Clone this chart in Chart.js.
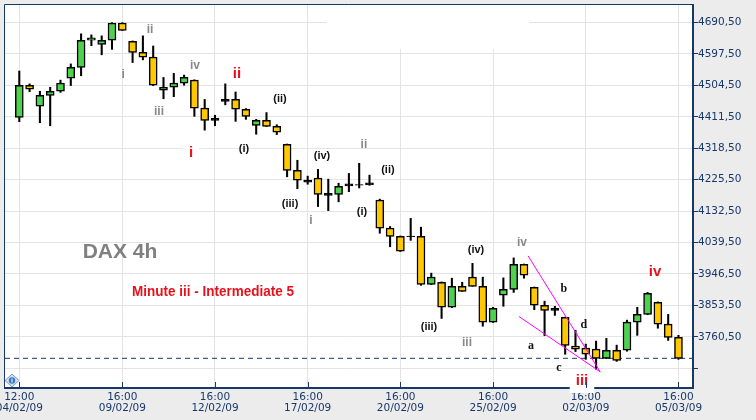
<!DOCTYPE html>
<html>
<head>
<meta charset="utf-8">
<script src="https://cdn.jsdelivr.net/npm/chart.js@4.4.1/dist/chart.umd.min.js"></script>
<style>
html, body { margin: 0; padding: 0; background: #ececec; }
canvas { display: block; }
</style>
</head>
<body>
<canvas id="myChart" width="756" height="420"></canvas>
<script>
// DAX 4h candles, one entry per bar
const opens  = [4410, 4505, 4443, 4475, 4487, 4526, 4558, 4638, 4626, 4638,
                4689, 4635, 4602, 4588, 4490, 4499, 4511, 4520, 4437, 4401,
                4457, 4463, 4434, 4386, 4401, 4383, 4330, 4253, 4224, 4230,
                4185, 4182, 4213, 4211, 4210, 4165, 4082, 4058, 4059, 4058,
                3916, 3922, 3848, 3910, 3937, 3910, 3804, 3884, 3901, 3975,
                3907, 3854, 3839, 3818, 3733, 3727, 3724, 3697, 3721, 3721,
                3804, 3827, 3863, 3798, 3759];
const highs  = [4547, 4509, 4487, 4499, 4520, 4568, 4657, 4654, 4651, 4690,
                4690, 4636, 4651, 4621, 4528, 4540, 4535, 4521, 4463, 4416,
                4509, 4485, 4436, 4404, 4424, 4388, 4331, 4283, 4236, 4256,
                4227, 4215, 4244, 4274, 4239, 4168, 4087, 4059, 4111, 4085,
                3949, 3923, 3934, 3922, 3978, 3937, 3848, 3935, 3994, 3976,
                3908, 3866, 3851, 3819, 3780, 3739, 3748, 3756, 3736, 3810,
                3848, 3892, 3864, 3827, 3765];
const lows   = [4397, 4486, 4394, 4385, 4484, 4504, 4533, 4622, 4595, 4611,
                4667, 4572, 4580, 4504, 4465, 4471, 4505, 4413, 4372, 4385,
                4447, 4398, 4404, 4360, 4383, 4359, 4234, 4199, 4212, 4146,
                4134, 4160, 4190, 4201, 4209, 4067, 4027, 4013, 4046, 3913,
                3915, 3815, 3847, 3895, 3910, 3792, 3803, 3851, 3892, 3934,
                3841, 3764, 3824, 3709, 3717, 3694, 3665, 3696, 3688, 3718,
                3765, 3826, 3786, 3750, 3694];
const closes = [4505, 4493, 4475, 4487, 4511, 4558, 4638, 4645, 4638, 4689,
                4667, 4602, 4588, 4505, 4499, 4511, 4528, 4437, 4401, 4407,
                4463, 4434, 4413, 4401, 4383, 4366, 4253, 4224, 4218, 4182,
                4179, 4206, 4207, 4209, 4216, 4082, 4058, 4014, 4057, 3916,
                3937, 3848, 3910, 3895, 3910, 3804, 3845, 3901, 3975, 3943,
                3854, 3839, 3845, 3735, 3724, 3709, 3697, 3721, 3691, 3804,
                3827, 3889, 3798, 3759, 3697];

// axis ticks
const tickIndex = [0, 10, 19, 28, 37, 46, 55, 64];
const tickTimes = ['12:00', '16:00', '16:00', '16:00', '16:00', '16:00', '16:00', '16:00'];
const tickDates = ['04/02/09', '09/02/09', '12/02/09', '17/02/09', '20/02/09', '25/02/09', '02/03/09', '05/03/09'];
const priceTicks = [4690.5, 4597.5, 4504.5, 4411.5, 4318.5, 4225.5, 4132.5, 4039.5, 3946.5, 3853.5, 3760.5, 3667.5];
const lastPrice = 3697;

// trend lines (bar index, price)
const upperLineX = [49.4, 56.4];
const upperLineY = [4000, 3657];
const lowerLineX = [48.5, 56.4];
const lowerLineY = [3821, 3657];

// wave count labels (bar index, price)
const waveText = ['ii', 'i', 'iv', 'iii', 'ii', 'i', '(i)', '(ii)', '(iii)', '(iv)',
                  'i', 'ii', '(ii)', '(i)', '(iii)', '(iv)', 'iii', 'iv', 'b', 'd',
                  'a', 'c', 'iii', 'iv', 'DAX 4h', 'Minute iii - Intermediate 5'];
const waveX = [12.69, 10.08, 17.06, 13.56, 21.14, 16.67, 21.81, 25.31, 26.29, 29.39,
               28.32, 33.46, 35.79, 33.27, 39.78, 44.34, 43.47, 48.81, 52.88, 54.82,
               49.68, 52.40, 54.63, 61.72, 9.78, 18.8];
const waveY = [4668, 4535, 4562, 4426, 4538, 4304, 4316, 4464, 4154, 4296,
               4103, 4328, 4254, 4130, 3790, 4018, 3742, 4038, 3902, 3796,
               3734, 3668, 3630, 3952, 4012, 3893];
const waveKind = ['gray', 'gray', 'gray', 'gray', 'red', 'redBox', 'black', 'black', 'black', 'black',
                  'gray', 'gray', 'black', 'black', 'black', 'black', 'gray', 'gray', 'letter', 'letter',
                  'letter', 'letter', 'redBox', 'red', 'title', 'note'];

const NAVY = '#19386a';
const GREEN = '#4fd04f';
const GOLD = '#ffc800';
const GRID = '#e4e4e4';
const xMin = -1.388, xMax = 65.41;
const yMin = 3609.2, yMax = 4742.3;

const waveStyle = {
    gray:   { font: 'bold 12px "Liberation Sans", Arial, sans-serif', color: '#888888' },
    red:    { font: 'bold 15px "Liberation Sans", Arial, sans-serif', color: '#e8101a' },
    redBox: { font: 'bold 15px "Liberation Sans", Arial, sans-serif', color: '#e8101a', bg: true },
    black:  { font: 'bold 11px "Liberation Sans", Arial, sans-serif', color: '#111111' },
    letter: { font: 'bold 12px "Liberation Serif", serif', color: '#111111' },
    title:  { font: 'bold 21px "Liberation Sans", Arial, sans-serif', color: '#808080' },
    note:   { font: 'bold 15px "Liberation Sans", Arial, sans-serif', color: '#e8101a', maxWidth: 162 }
};

const chartExtras = {
    id: 'chartExtras',
    beforeDraw(chart) {
        const ctx = chart.ctx;
        const a = chart.chartArea;
        ctx.save();
        ctx.fillStyle = '#ffffff';
        ctx.fillRect(a.left, a.top, a.right - a.left, a.bottom - a.top);
        ctx.restore();
    },
    beforeDatasetsDraw(chart) {
        const ctx = chart.ctx;
        ctx.save();
        ctx.fillStyle = '#ffffff';
        ctx.fillRect(327, 5, 202, 44);
        ctx.restore();
    },
    afterDatasetsDraw(chart) {
        const ctx = chart.ctx;
        const xs = chart.scales.x, ys = chart.scales.y;
        ctx.save();
        ctx.textAlign = 'center';
        ctx.textBaseline = 'middle';
        for (let i = 0; i < waveText.length; i++) {
            const st = waveStyle[waveKind[i]];
            const px = xs.getPixelForValue(waveX[i]);
            const py = ys.getPixelForValue(waveY[i]);
            ctx.font = st.font;
            if (st.bg) {
                const w = ctx.measureText(waveText[i]).width + 12;
                ctx.fillStyle = '#ffffff';
                ctx.fillRect(px - w / 2, py - 12, w, 24);
            }
            ctx.fillStyle = st.color;
            if (st.maxWidth) {
                ctx.fillText(waveText[i], px, py, st.maxWidth);
            } else {
                ctx.fillText(waveText[i], px, py);
            }
        }
        ctx.restore();
    },
    afterDraw(chart) {
        const ctx = chart.ctx;
        const a = chart.chartArea;
        const xs = chart.scales.x;
        ctx.save();
        // left and top frame
        ctx.strokeStyle = NAVY;
        ctx.lineWidth = 1;
        ctx.beginPath();
        ctx.moveTo(4.5, a.bottom);
        ctx.lineTo(4.5, 4.5);
        ctx.lineTo(a.right, 4.5);
        ctx.stroke();
        // inward ticks on the time axis
        ctx.beginPath();
        tickIndex.forEach(v => {
            const px = Math.round(xs.getPixelForValue(v)) + 0.5;
            ctx.moveTo(px, a.bottom);
            ctx.lineTo(px, a.bottom - 6);
        });
        ctx.stroke();
        // small info icon
        const cx = 12, cy = 380.5;
        ctx.beginPath();
        ctx.moveTo(cx - 7, cy);
        ctx.lineTo(cx, cy - 6.5);
        ctx.lineTo(cx + 7, cy);
        ctx.lineTo(cx, cy + 6.5);
        ctx.closePath();
        ctx.fillStyle = '#cfdcec';
        ctx.fill();
        ctx.strokeStyle = '#7d9bc2';
        ctx.stroke();
        ctx.beginPath();
        ctx.arc(cx, cy, 3.2, 0, Math.PI * 2);
        ctx.fillStyle = '#3b78c8';
        ctx.fill();
        ctx.fillStyle = '#ffffff';
        ctx.fillRect(cx - 0.5, cy - 2, 1, 4);
        ctx.restore();
    }
};

const bodies = opens.map((o, i) => ({ x: i, y: [o, closes[i]] }));
const wicks = highs.map((h, i) => ({ x: i, y: [lows[i], h] }));
// very small bodies show as a solid black dash
const bodyColors = opens.map((o, i) => {
    const c = closes[i];
    if (Math.abs(c - o) <= 6) return '#000000';
    return c >= o ? GREEN : GOLD;
});

const config = {
    type: 'bar',
    data: {
        datasets: [{
            type: 'line',
            data: upperLineX.map((x, i) => ({ x: x, y: upperLineY[i] })),
            borderColor: '#ff00ff',
            borderWidth: 1,
            pointRadius: 0,
            order: 0
        }, {
            type: 'line',
            data: lowerLineX.map((x, i) => ({ x: x, y: lowerLineY[i] })),
            borderColor: '#ff00ff',
            borderWidth: 1,
            pointRadius: 0,
            order: 0
        }, {
            data: bodies,
            backgroundColor: bodyColors,
            borderColor: '#000000',
            borderWidth: 1.5,
            borderSkipped: false,
            barThickness: 8,
            grouped: false,
            order: 1
        }, {
            data: wicks,
            backgroundColor: '#000000',
            borderWidth: 0,
            barThickness: 1.4,
            grouped: false,
            order: 2
        }, {
            type: 'line',
            data: [{ x: xMin, y: lastPrice }, { x: xMax, y: lastPrice }],
            borderColor: NAVY,
            borderWidth: 1,
            borderDash: [5, 4],
            pointRadius: 0,
            order: 3
        }]
    },
    options: {
        responsive: false,
        devicePixelRatio: 1,
        animation: false,
        layout: {
            padding: { left: 5, top: 5, right: 0, bottom: 0 }
        },
        plugins: {
            legend: { display: false },
            tooltip: { enabled: false }
        },
        scales: {
            x: {
                type: 'linear',
                position: 'bottom',
                min: xMin,
                max: xMax,
                offset: false,
                afterBuildTicks: axis => {
                    axis.ticks = tickIndex.map(v => ({ value: v }));
                },
                afterFit: axis => {
                    axis.height = 32;
                    axis.paddingLeft = 0;
                    axis.paddingRight = 0;
                },
                ticks: {
                    autoSkip: false,
                    maxRotation: 0,
                    padding: 4,
                    color: NAVY,
                    font: { family: '"DejaVu Sans", Verdana, sans-serif', size: 10.5, lineHeight: 1.05 },
                    callback: value => {
                        const k = tickIndex.indexOf(value);
                        return k < 0 ? '' : [tickTimes[k], tickDates[k]];
                    }
                },
                grid: {
                    color: GRID,
                    lineWidth: 1,
                    offset: false,
                    drawTicks: false
                },
                border: { color: NAVY, width: 2 }
            },
            y: {
                type: 'linear',
                position: 'right',
                min: yMin,
                max: yMax,
                afterBuildTicks: axis => {
                    axis.ticks = priceTicks.map(v => ({ value: v }));
                },
                afterFit: axis => {
                    axis.width = 63;
                    axis.paddingTop = 0;
                    axis.paddingBottom = 0;
                },
                ticks: {
                    padding: 0,
                    color: NAVY,
                    font: { family: '"DejaVu Sans", Verdana, sans-serif', size: 10.5 },
                    callback: value => value === 3667.5 ? '' : value.toFixed(2).replace('.', ',')
                },
                grid: {
                    color: GRID,
                    lineWidth: 1,
                    drawTicks: true,
                    tickLength: 5,
                    tickColor: NAVY,
                    tickWidth: 1
                },
                border: { color: NAVY, width: 2 }
            }
        }
    },
    plugins: [chartExtras]
};

const myChart = new Chart(document.getElementById('myChart'), config);
</script>
</body>
</html>
